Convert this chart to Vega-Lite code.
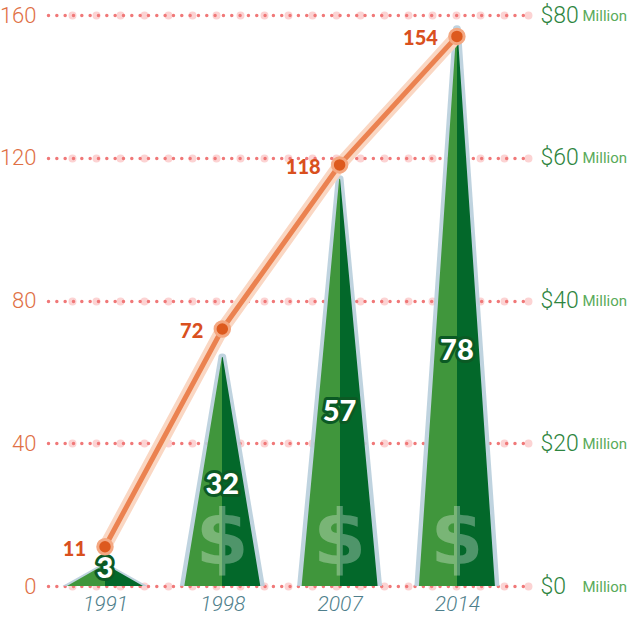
{
  "$schema": "https://vega.github.io/schema/vega-lite/v6.json",
  "autosize": "none",
  "width": 480,
  "height": 571,
  "padding": {"left": 48, "right": 102, "top": 15, "bottom": 32},
  "background": "white",
  "config": {"view": {"stroke": null}},
  "datasets": {
    "main": [
      {"year": "1991", "installs": 11, "money": 3},
      {"year": "1998", "installs": 72, "money": 32},
      {"year": "2007", "installs": 118, "money": 57},
      {"year": "2014", "installs": 154, "money": 78}
    ],
    "pyramids": [
      {"year": "1991", "end": "base", "money": 0},
      {"year": "1991", "end": "apex", "money": 3},
      {"year": "1998", "end": "base", "money": 0},
      {"year": "1998", "end": "apex", "money": 32},
      {"year": "2007", "end": "base", "money": 0},
      {"year": "2007", "end": "apex", "money": 57},
      {"year": "2014", "end": "base", "money": 0},
      {"year": "2014", "end": "apex", "money": 78}
    ]
  },
  "encoding": {
    "x": {
      "field": "year", "type": "ordinal",
      "scale": {"type": "point", "padding": 0.546, "align": 0.445},
      "axis": {"title": null, "domain": false, "ticks": false, "labelPadding": 7, "labelFontSize": 21, "labelFontStyle": "italic", "labelColor": "#4f7f8c", "labelFont": "Roboto", "labelFontWeight": 300, "labelAngle": 0}
    }
  },
  "layer": [
    {
      "data": {"name": "pyramids"},
      "mark": {"type": "trail", "clip": true, "color": "#b8cedb", "opacity": 0.9},
      "encoding": {
        "y": {"field": "money", "type": "quantitative", "scale": {"domain": [0, 80]},
          "axis": {"orient": "right", "offset": 50, "values": [0, 20, 40, 60, 80], "labelExpr": "'Million'", "grid": false, "domain": false, "ticks": false, "labelPadding": 4, "labelFontSize": 15, "labelColor": "#5aab5a", "labelFont": "Roboto", "labelFontWeight": 400, "title": null}},
        "detail": {"field": "year"},
        "order": {"field": "money", "type": "quantitative"},
        "size": {"field": "end", "type": "nominal", "scale": {"type": "ordinal", "domain": ["base", "apex"], "range": [85, 8]}, "legend": null}
      }
    },
    {
      "data": {"name": "pyramids"},
      "encoding": {
        "y": {"field": "money", "type": "quantitative", "scale": {"domain": [0, 80]},
          "axis": {"orient": "right", "values": [0, 20, 40, 60, 80], "labelExpr": "'$' + datum.value", "grid": true, "gridColor": "#fcd3d3", "gridWidth": 8, "gridDash": [0, 24], "gridCap": "round", "domain": false, "ticks": false, "labelPadding": 12, "labelFontSize": 23, "labelColor": "#2e8540", "labelFont": "Roboto", "labelFontWeight": 300, "title": null}}
      },
      "layer": [
        {
          "mark": {"type": "trail", "clip": true, "fill": {"gradient": "linear", "x1": 0, "x2": 1, "y1": 0, "y2": 0, "stops": [{"offset": 0, "color": "#40963c"}, {"offset": 0.5, "color": "#40963c"}, {"offset": 0.5, "color": "#03682a"}, {"offset": 1, "color": "#03682a"}]}},
          "encoding": {
            "detail": {"field": "year"},
            "order": {"field": "money", "type": "quantitative"},
            "size": {"field": "end", "type": "nominal", "scale": {"type": "ordinal", "domain": ["base", "apex"], "range": [76, 0]}, "legend": null}
          }
        },
        {
          "transform": [{"filter": "datum.end == 'base' && datum.year != '1991'"}],
          "mark": {"type": "text", "text": "$", "font": "DejaVu Sans", "fontWeight": "bold", "fontSize": 76, "fill": "white", "fillOpacity": 0.3, "baseline": "alphabetic", "align": "center", "dy": -22}
        }
      ]
    },
    {
      "data": {"name": "main"},
      "encoding": {
        "y": {"field": "money", "type": "quantitative", "scale": {"domain": [-3, 194]}, "axis": null},
        "text": {"field": "money", "type": "quantitative"}
      },
      "layer": [
        {"mark": {"type": "text", "font": "Lato", "fontWeight": 900, "fontSize": 29, "baseline": "middle", "align": "center", "stroke": "#0b5a24", "strokeWidth": 6, "strokeJoin": "round", "fill": "#0b5a24"}},
        {"mark": {"type": "text", "font": "Lato", "fontWeight": 900, "fontSize": 29, "baseline": "middle", "align": "center", "fill": "white"}}
      ]
    },
    {
      "data": {"name": "main"},
      "encoding": {
        "y": {"field": "installs", "type": "quantitative", "scale": {"domain": [0, 160]},
          "axis": {"orient": "left", "values": [0, 40, 80, 120, 160], "grid": true, "gridColor": "#f07878", "gridWidth": 3.5, "gridDash": [0, 8.33], "gridCap": "round", "domain": false, "ticks": false, "labelPadding": 12, "labelFontSize": 22, "labelColor": "#e07045", "labelFont": "Roboto", "labelFontWeight": 300, "title": null}}
      },
      "layer": [
        {"mark": {"type": "line", "color": "#fad7c3", "strokeWidth": 13, "strokeCap": "round"}},
        {"mark": {"type": "line", "color": "#eb8250", "strokeWidth": 5, "strokeCap": "round"}},
        {"mark": {"type": "point", "shape": "circle", "filled": true, "size": 210, "fill": "#dd5a1e", "stroke": "#f4a882", "strokeWidth": 3, "opacity": 1}},
        {"mark": {"type": "text", "font": "Lato", "fontWeight": 900, "fontSize": 20, "fill": "#d9501e", "align": "right", "baseline": "middle", "dx": -19, "dy": 3},
          "encoding": {"text": {"field": "installs", "type": "quantitative"}}}
      ]
    }
  ],
  "resolve": {"scale": {"y": "independent", "size": "independent"}}
}
